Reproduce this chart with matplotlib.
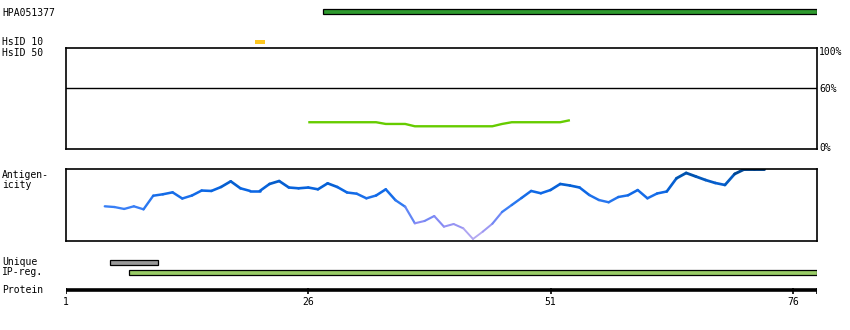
import numpy as np
import matplotlib
matplotlib.use("Agg")
import matplotlib.pyplot as plt
from matplotlib.collections import LineCollection
from matplotlib.colors import LinearSegmentedColormap
import matplotlib.transforms as mtransforms

# protein / track data (residue numbers)
protein_len = 78
ticks = [1, 26, 51, 76]
hpa_region = (28, 78)
hsid10_region = (21, 21)
unique_region = (6, 10)
ipreg_region = (8, 78)

# HsID 50 identity (%) for residues 26..53
hsid50_start = 26
hsid50 = [26.5, 26.5, 26.5, 26.5, 26.5, 26.5, 26.5, 26.5, 24.8, 24.8, 24.8,
          22.5, 22.5, 22.5, 22.5, 22.5, 22.5, 22.5, 22.5, 22.5, 24.8,
          26.5, 26.5, 26.5, 26.5, 26.5, 26.5, 28.5]

# antigenicity (0..1) for residues 5..73
antigen_start = 5
antigen = [0.475, 0.465, 0.438, 0.475, 0.433, 0.622, 0.642, 0.669, 0.583, 0.625,
           0.694, 0.688, 0.743, 0.822, 0.725, 0.688, 0.688, 0.785, 0.826, 0.736,
           0.725, 0.736, 0.711, 0.794, 0.743, 0.667, 0.650, 0.586, 0.625, 0.711,
           0.560, 0.469, 0.239, 0.271, 0.340, 0.192, 0.229, 0.169, 0.021, 0.122,
           0.233, 0.396, 0.493, 0.590, 0.688, 0.656, 0.701, 0.785, 0.764, 0.736,
           0.632, 0.562, 0.531, 0.604, 0.628, 0.701, 0.586, 0.653, 0.681, 0.864,
           0.938, 0.889, 0.840, 0.799, 0.771, 0.924, 0.989, 0.989, 0.989]

W, H = 850, 330
FONT = dict(family="DejaVu Sans Mono", size=7)

fig = plt.figure(figsize=(8.5, 3.3), dpi=100)


def px_axes(left, top, right, bottom):
    # place an axes by pixel box (origin top-left)
    return fig.add_axes([left / W, 1 - bottom / H, (right - left) / W, (bottom - top) / H])


xmin, xmax = 1, protein_len + 0.5

# tracks drawn in pixel rows
trk = px_axes(66, 0, 817, 330)
trk.set_xlim(xmin, xmax)
trk.set_ylim(330, 0)
trk.axis("off")


def region_bar(region, yc, h, color, edge):
    s, e = region
    trk.barh(yc, e - s + 1, left=s - 0.5, height=h, color=color,
             edgecolor="black" if edge else "none", linewidth=0.9 if edge else 0)


region_bar(hpa_region, 11.5, 5, "#2e9a2e", True)
region_bar(hsid10_region, 42, 4, "#ffc820", False)
region_bar(unique_region, 262, 5, "#999999", True)
region_bar(ipreg_region, 272, 5, "#99cc66", True)

# protein axis
trk.hlines(290, xmin, xmax, color="black", linewidth=2.6)
trk.vlines(ticks + [xmax], 288, 294, color="black", linewidth=1.2)
for t in ticks:
    trk.text(t, 302, str(t), ha="center", va="center", **FONT)

# identity box
idax = px_axes(66, 48, 817, 149)
idax.set_xlim(xmin, xmax)
idax.set_ylim(0, 100)
idax.set_xticks([])
idax.set_yticks([])
for sp in idax.spines.values():
    sp.set_linewidth(1.2)
idax.axhline(60, color="black", linewidth=1.0)
xs = np.arange(hsid50_start, hsid50_start + len(hsid50))
idax.plot(xs, hsid50, color="#66cc00", linewidth=1.7, solid_capstyle="butt")
tr = mtransforms.blended_transform_factory(idax.transAxes, idax.transData)
idax.text(1.003, 96, "100%", transform=tr, ha="left", va="center", **FONT)
idax.text(1.003, 59, "60%", transform=tr, ha="left", va="center", **FONT)
idax.text(1.003, 1, "0%", transform=tr, ha="left", va="center", **FONT)

# antigenicity box
agax = px_axes(66, 168.5, 817, 240.5)
agax.set_xlim(xmin, xmax)
agax.set_ylim(0, 1)
agax.set_xticks([])
agax.set_yticks([])
for sp in agax.spines.values():
    sp.set_linewidth(1.2)

cmap = LinearSegmentedColormap.from_list(
    "ag", [(0, "#c4b4f0"), (0.25, "#8c8cf4"), (0.45, "#3a80f6"),
           (0.7, "#0a66e4"), (0.9, "#0055b4"), (1.0, "#003c80")])
ax_ = np.arange(antigen_start, antigen_start + len(antigen))
av = np.array(antigen)
pts = np.column_stack([ax_, av]).reshape(-1, 1, 2)
segs = np.concatenate([pts[:-1], pts[1:]], axis=1)
mid = (av[:-1] + av[1:]) / 2
lc = LineCollection(segs, colors=cmap(mid), linewidths=1.3 + 0.8 * mid,
                    capstyle="round")
agax.add_collection(lc)

# left labels
fig.text(2 / W, 1 - 13 / H, "HPA051377", va="center", **FONT)
fig.text(2 / W, 1 - 42 / H, "HsID 10", va="center", **FONT)
fig.text(2 / W, 1 - 52.5 / H, "HsID 50", va="center", **FONT)
fig.text(2 / W, 1 - 175 / H, "Antigen-", va="center", **FONT)
fig.text(2 / W, 1 - 185 / H, "icity", va="center", **FONT)
fig.text(2 / W, 1 - 262 / H, "Unique", va="center", **FONT)
fig.text(2 / W, 1 - 272 / H, "IP-reg.", va="center", **FONT)
fig.text(2 / W, 1 - 290 / H, "Protein", va="center", **FONT)

fig.savefig("out.png", dpi=100)
